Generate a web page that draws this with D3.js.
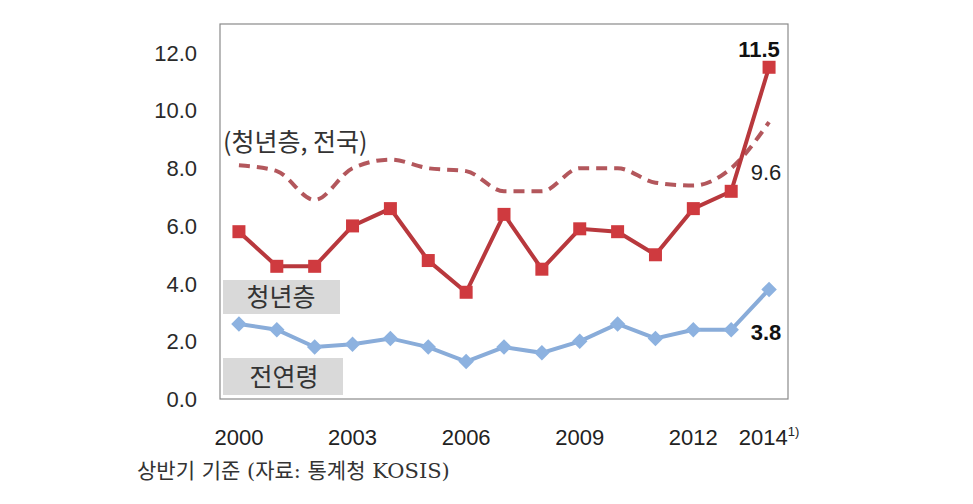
<!DOCTYPE html>
<html><head><meta charset="utf-8">
<script src="https://cdn.jsdelivr.net/npm/d3@7"></script>
<style>body{margin:0;background:#fff}</style>
</head><body>
<svg id="c" width="973" height="504"></svg>
<script>
const years = [2000,2001,2002,2003,2004,2005,2006,2007,2008,2009,2010,2011,2012,2013,2014];
const youth = [5.8,4.6,4.6,6.0,6.6,4.8,3.7,6.4,4.5,5.9,5.8,5.0,6.6,7.2,11.5];
const youthNational = [8.1,7.9,6.9,8.0,8.3,8.0,7.9,7.2,7.2,8.0,8.0,7.5,7.4,8.0,9.6];
const allAges = [2.6,2.4,1.8,1.9,2.1,1.8,1.3,1.8,1.6,2.0,2.6,2.1,2.4,2.4,3.8];
const yTicks = [0,2,4,6,8,10,12];
const xTickYears = [2000,2003,2006,2009,2012,2014];
const xTickLabels = ["2000","2003","2006","2009","2012","2014"];

const svg = d3.select("#c");
const L=220,R=788,T=24,B=399;
const x = d3.scalePoint().domain(years).range([L,R]).padding(0.5);
const y = d3.scaleLinear().domain([0,13]).range([B,T]);
const font = "'Liberation Sans', Arial, 'Noto Sans CJK KR', sans-serif";
const kfont = "'Noto Sans CJK KR', sans-serif";

svg.append("rect").attr("x",L).attr("y",T).attr("width",R-L).attr("height",B-T)
  .attr("fill","none").attr("stroke","#8a8a8a").attr("stroke-width",1.2);

// y axis labels
svg.append("g").selectAll("text").data(yTicks).join("text")
  .attr("x",197).attr("y",d=>y(d)).attr("dy","0.36em").attr("text-anchor","end")
  .attr("font-family",font).attr("font-size",22).attr("fill","#2a2a2a")
  .text(d=>d.toFixed(1));

// x axis labels
const xl = svg.append("g").selectAll("text").data(xTickYears).join("text")
  .attr("x",d=>x(d)).attr("y",445).attr("text-anchor","middle")
  .attr("font-family",font).attr("font-size",22).attr("fill","#222");
xl.text((d,i)=>xTickLabels[i]);
xl.filter(d=>d===2014).append("tspan").attr("dy",-9).attr("font-size",13).text("1)");

// gray label boxes
svg.append("rect").attr("x",223).attr("y",280).attr("width",117).attr("height",34).attr("fill","#d9d9d9");
svg.append("rect").attr("x",223).attr("y",358).attr("width",120).attr("height",37).attr("fill","#d9d9d9");
svg.append("text").attr("x",281).attr("y",306).attr("text-anchor","middle")
  .attr("font-family",kfont).attr("font-size",25).attr("fill","#333").text("청년층");
svg.append("text").attr("x",284).attr("y",386).attr("text-anchor","middle")
  .attr("font-family",kfont).attr("font-size",25).attr("fill","#333").text("전연령");
svg.append("text").attr("x",223).attr("y",151)
  .attr("font-family",kfont).attr("font-size",25).attr("fill","#333").text("(청년층, 전국)");

// dashed national youth line (smoothed)
svg.append("path").datum(youthNational)
  .attr("d", d3.line().x((d,i)=>x(years[i])).y(d=>y(d)).curve(d3.curveMonotoneX))
  .attr("fill","none").attr("stroke","#b3575c").attr("stroke-width",4).attr("stroke-dasharray","11,7");

// youth line
svg.append("path").datum(youth)
  .attr("d", d3.line().x((d,i)=>x(years[i])).y(d=>y(d)))
  .attr("fill","none").attr("stroke","#b8383d").attr("stroke-width",4);
svg.append("g").selectAll("rect").data(youth).join("rect")
  .attr("x",(d,i)=>x(years[i])-6.5).attr("y",d=>y(d)-6.5).attr("width",13).attr("height",13)
  .attr("fill","#cf3a3f");

// all-ages line
svg.append("path").datum(allAges)
  .attr("d", d3.line().x((d,i)=>x(years[i])).y(d=>y(d)))
  .attr("fill","none").attr("stroke","#89acd9").attr("stroke-width",4);
svg.append("g").selectAll("path").data(allAges).join("path")
  .attr("d", d3.symbol(d3.symbolSquare, 120))
  .attr("transform",(d,i)=>`translate(${x(years[i])},${y(d)}) rotate(45)`)
  .attr("fill","#8db2e0");

// value annotations
const last = years.length-1;
svg.append("text").attr("x",x(years[last])-10).attr("y",57).attr("text-anchor","middle")
  .attr("font-family",font).attr("font-weight","bold").attr("font-size",22).attr("fill","#111").text(youth[last].toFixed(1));
svg.append("text").attr("x",x(years[last])-3).attr("y",180).attr("text-anchor","middle")
  .attr("font-family",font).attr("font-size",22).attr("fill","#222").text(youthNational[last].toFixed(1));
svg.append("text").attr("x",x(years[last])-3).attr("y",340).attr("text-anchor","middle")
  .attr("font-family",font).attr("font-weight","bold").attr("font-size",22).attr("fill","#111").text(allAges[last].toFixed(1));

// caption
svg.append("text").attr("x",137).attr("y",478)
  .attr("font-family","'DejaVu Serif', 'Liberation Serif', 'Noto Sans CJK KR', serif").attr("font-size",21).attr("fill","#333")
  .text("상반기 기준 (자료: 통계청 KOSIS)");
</script>
</body></html>
